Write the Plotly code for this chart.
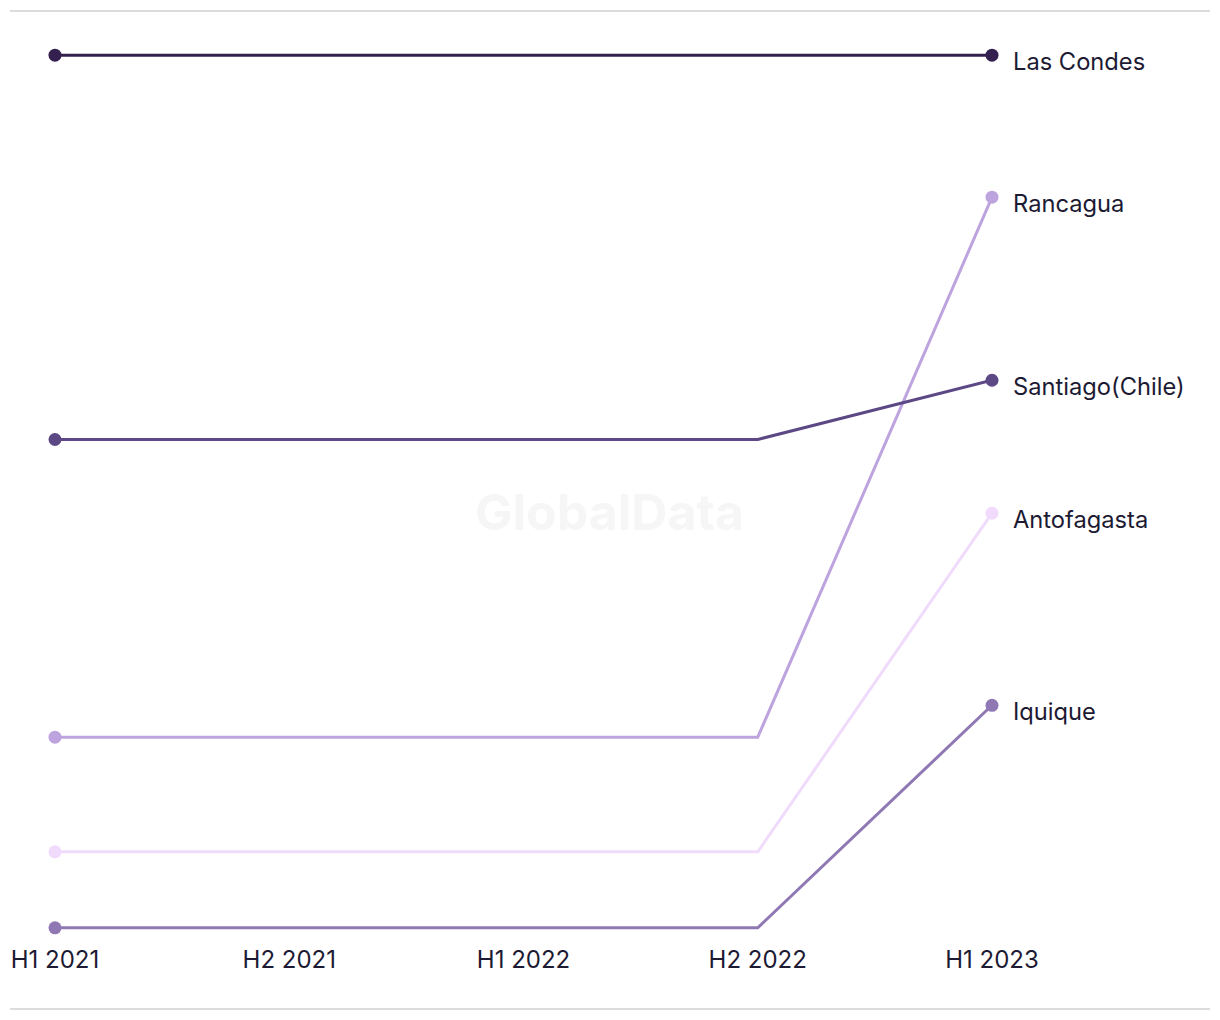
import plotly.graph_objects as go

periods = ["H1 2021", "H2 2021", "H1 2022", "H2 2022", "H1 2023"]
cities = ["Las Condes", "Rancagua", "Santiago(Chile)", "Antofagasta", "Iquique"]
las_condes = [12.49, 12.49, 12.49, 12.49, 12.49]
rancagua = [3.51, 3.51, 3.51, 3.51, 10.62]
santiago = [7.43, 7.43, 7.43, 7.43, 8.21]
antofagasta = [2.0, 2.0, 2.0, 2.0, 6.46]
iquique = [1.0, 1.0, 1.0, 1.0, 3.93]
series = [las_condes, rancagua, santiago, antofagasta, iquique]
colors = ["#33204f", "#bea4df", "#5c4884", "#f1dbfc", "#8f78b4"]

xs = list(range(len(periods)))
fig = go.Figure()
order = [3, 1, 4, 2, 0]
for i in order:
    vals = series[i]
    fig.add_trace(go.Scatter(
        x=xs, y=vals, mode="lines",
        line=dict(color=colors[i], width=3),
        showlegend=False, hoverinfo="skip",
    ))
    fig.add_trace(go.Scatter(
        x=[xs[0], xs[-1]], y=[vals[0], vals[-1]], mode="markers",
        marker=dict(size=13, color=colors[i], opacity=1, line=dict(width=0)),
        cliponaxis=False, showlegend=False, hoverinfo="skip",
    ))
    fig.add_annotation(x=xs[-1], y=vals[-1], text=cities[i], showarrow=False,
                       xanchor="left", yanchor="middle", xshift=19, yshift=-6,
                       font=dict(size=23.7, color="#1d1a33", family="Inter"))

fig.add_annotation(xref="paper", yref="paper", x=0.592, y=0.4773, text="<b>GlobalData</b>",
                   showarrow=False, font=dict(size=50, color="#f6f6f6", family="Inter"))

for yp in [1.0321, -0.0731]:
    fig.add_shape(type="line", xref="paper", yref="paper", x0=-0.048, x1=1.2327, y0=yp, y1=yp,
                  line=dict(color="#dcdcdc", width=2))

ymin = min(min(s) for s in series)
ymax = max(max(s) for s in series)
pad = 0.2
fig.update_layout(
    width=1220, height=1020,
    margin=dict(l=55, r=228, t=40, b=77),
    paper_bgcolor="white", plot_bgcolor="white",
    xaxis=dict(range=[0, 4], tickvals=xs, ticktext=periods, showgrid=False, zeroline=False,
               showline=False, ticks="", ticklabelstandoff=0,
               tickfont=dict(size=24, color="#1d1a33", family="Inter")),
    yaxis=dict(range=[ymin - pad, ymax + pad], showgrid=False, zeroline=False, showline=False,
               showticklabels=False, ticks=""),
)
fig.write_html("out.html")
